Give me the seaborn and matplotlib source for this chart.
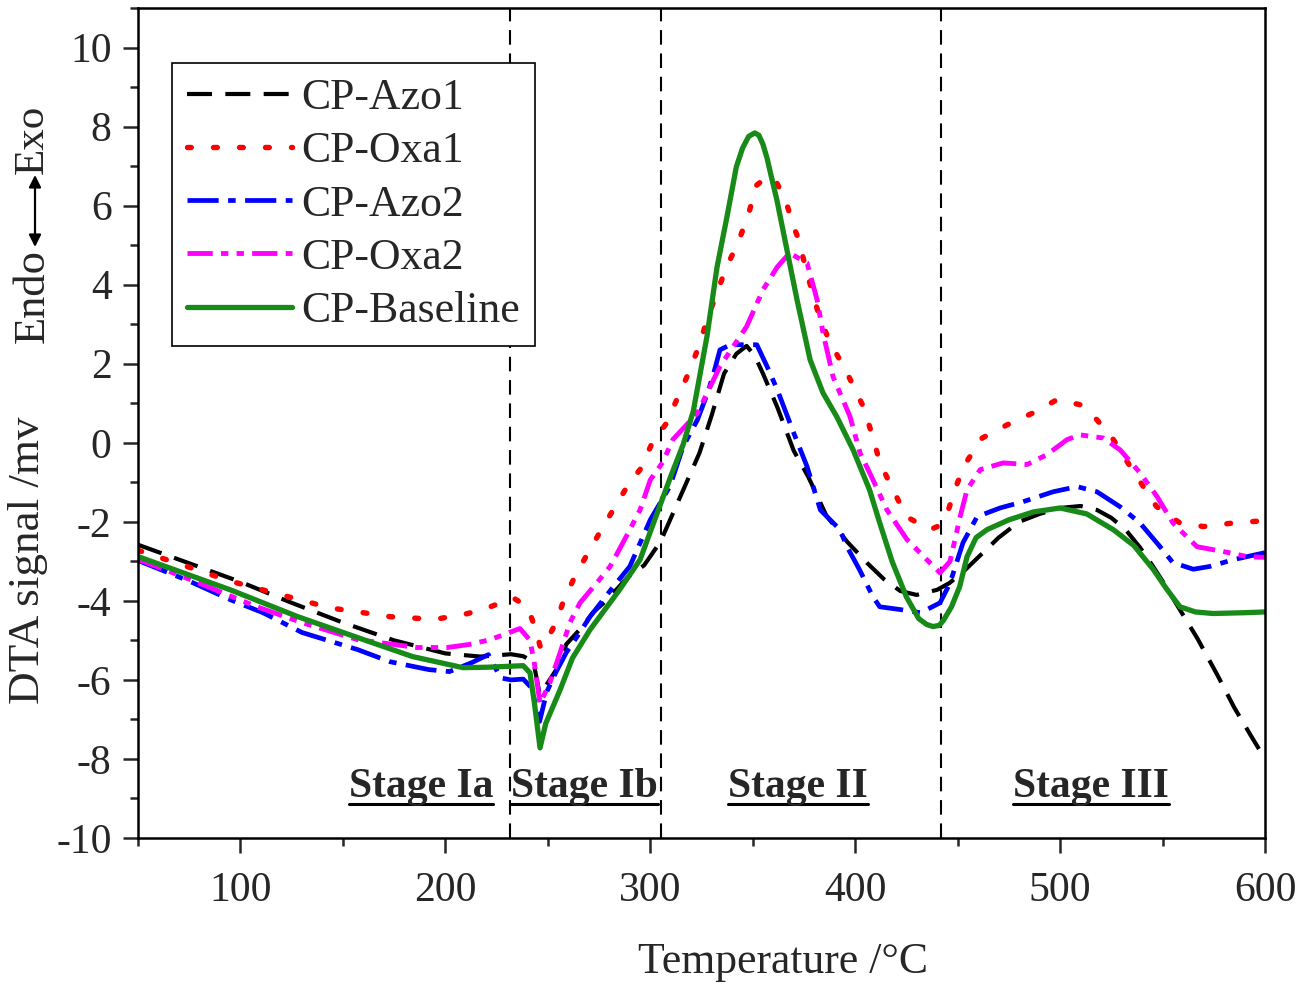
import matplotlib
matplotlib.use("Agg")
import matplotlib.pyplot as plt
import seaborn as sns
import pandas as pd
from matplotlib.ticker import MultipleLocator
from matplotlib.lines import Line2D

# ---------------- data ----------------
series_names = ["CP-Azo1", "CP-Oxa1", "CP-Azo2", "CP-Oxa2", "CP-Baseline"]

azo1_T = [50, 75, 100, 125, 150, 175, 200, 217, 225, 232, 238, 243, 246, 249, 254, 259, 266, 272,
          279, 289, 297, 305, 314, 324, 330, 336, 342, 347, 351, 355, 362, 370, 377, 386, 396, 406,
          414, 422, 430, 440, 446, 453, 461, 470, 480, 490, 500, 510, 518, 525, 532, 539, 545, 550,
          557, 567, 577, 585, 593, 600]
azo1_v = [-2.58, -3.05, -3.52, -4.05, -4.55, -5.0, -5.33, -5.41, -5.38, -5.35, -5.4, -5.55, -6.35,
          -6.15, -5.75, -5.1, -4.7, -4.3, -3.97, -3.4, -3.1, -2.5, -1.44, -0.26, 0.7, 1.75, 2.25,
          2.45, 2.2, 1.75, 0.9, -0.2, -0.85, -1.85, -2.5, -3.05, -3.45, -3.75, -3.85, -3.72, -3.55,
          -3.25, -2.85, -2.4, -2.0, -1.8, -1.65, -1.6, -1.7, -1.9, -2.2, -2.65, -3.1, -3.5, -4.1,
          -4.95, -5.9, -6.7, -7.4, -8.0]

oxa1_T = [50, 75, 95, 120, 144, 160, 173, 189, 197, 211, 222, 233, 240, 244, 246.5, 249, 254, 258,
          264, 275, 283, 290, 295, 301, 308, 313.5, 319, 324, 328, 337, 343, 348, 352, 357, 361,
          366, 370, 372, 377, 383, 388, 396, 404, 409, 412, 418.5, 425, 436.5, 441, 445, 450, 455,
          462, 474, 487, 498.5, 510, 518, 526, 533, 540.5, 547, 558.5, 570, 584.5, 600]
oxa1_v = [-2.72, -3.15, -3.5, -3.85, -4.18, -4.3, -4.4, -4.45, -4.45, -4.32, -4.15, -3.92, -4.15,
          -4.7, -5.2, -5.05, -4.55, -3.95, -3.3, -2.3, -1.6, -1.0, -0.68, 0.0, 0.5, 1.16, 1.8, 2.48,
          3.16, 4.42, 5.08, 5.8, 6.52, 6.73, 6.65, 6.14, 5.46, 5.2, 4.2, 3.1, 2.52, 1.77, 0.91,
          0.08, -0.5, -1.19, -1.87, -2.2, -2.1, -1.77, -1.0, -0.43, 0.12, 0.45, 0.76, 1.09, 0.96,
          0.58, 0.08, -0.5, -1.1, -1.61, -2.03, -2.12, -2.03, -1.97]

azo2_T = [50, 75, 95, 111, 130, 157, 173, 192, 202, 213, 221, 227, 232, 238, 242, 246, 249.5, 254,
          259, 265, 270.6, 282, 290, 300, 309.6, 316, 323, 328, 331, 334, 339, 352, 357, 362, 370,
          376.5, 383, 392.6, 396, 402, 408.7, 412, 422, 432, 441.4, 446.3, 452.6, 459.5, 470.7, 482,
          496.6, 508.3, 518, 529.3, 539, 548.8, 555, 565, 573, 584.4, 600]
azo2_v = [-2.98, -3.5, -3.97, -4.3, -4.8, -5.23, -5.54, -5.74, -5.79, -5.56, -5.36, -5.95, -6.0,
          -5.98, -6.2, -7.05, -6.3, -5.8, -5.31, -4.85, -4.4, -3.64, -3.13, -1.95, -1.1, -0.1, 0.58,
          1.26, 1.77, 2.35, 2.48, 2.48, 1.93, 1.34, 0.25, -0.6, -1.7, -2.2, -2.63, -3.2, -3.9,
          -4.15, -4.22, -4.3, -4.05, -3.55, -2.53, -1.87, -1.65, -1.49, -1.24, -1.11, -1.24, -1.62,
          -2.03, -2.63, -3.03, -3.2, -3.13, -2.96, -2.78]

oxa2_T = [50, 75, 108, 130, 157, 186, 201, 212, 222, 236.4, 241.3, 243.5, 246.2, 251, 256, 260.8,
          265.7, 274, 280.4, 288, 295, 300, 306, 311, 323, 334, 347, 355, 362, 368, 376.5, 381.4,
          384.3, 389.2, 397.5, 402.4, 408.7, 415.5, 425.3, 435, 441.4, 446.3, 451.2, 454.6, 461,
          472.2, 483.9, 493.6, 503.4, 509.7, 521, 529.3, 539, 547.3, 555.1, 566.8, 579.5, 591.2, 600]
oxa2_v = [-2.95, -3.45, -4.15, -4.55, -4.98, -5.18, -5.18, -5.1, -4.98, -4.7, -5.0, -5.6, -6.6,
          -6.07, -5.31, -4.55, -4.05, -3.54, -3.13, -2.4, -1.7, -0.94, -0.5, 0.08, 0.75, 1.93, 2.94,
          3.87, 4.45, 4.8, 4.55, 3.62, 2.78, 1.67, 0.66, -0.26, -0.94, -1.7, -2.45, -2.96, -3.29,
          -3.0, -1.87, -1.19, -0.68, -0.51, -0.55, -0.3, 0.08, 0.2, 0.12, -0.18, -0.76, -1.36, -2.03,
          -2.63, -2.75, -2.88, -2.9]

base_T = [50, 95, 128, 160, 184, 208.6, 220, 238, 241.3, 243.5, 246.2, 249, 256, 262, 270.6, 285,
          295, 305, 310, 316, 321, 327.7, 332.6, 337.4, 342, 345, 348, 351, 353, 355, 357, 359,
          361.8, 366.7, 371.6, 378, 384.3, 391, 399, 407, 412, 418, 425, 431, 435, 438, 441, 443,
          447, 451, 454.6, 459, 464.3, 475, 487, 500, 513, 526, 536, 545.4, 552, 558.5, 566, 574.6,
          590, 600]
base_v = [-2.88, -3.72, -4.4, -4.98, -5.41, -5.69, -5.68, -5.64, -5.82, -6.6, -7.72, -7.1, -6.25,
          -5.45, -4.73, -3.72, -2.96, -1.55, -0.85, -0.05, 0.8, 2.7, 4.45, 5.71, 6.98, 7.45, 7.75,
          7.84, 7.78, 7.55, 7.2, 6.75, 6.14, 4.88, 3.62, 2.1, 1.26, 0.66, -0.18, -1.19, -2.03, -3.0,
          -3.9, -4.45, -4.6, -4.65, -4.62, -4.5, -4.15, -3.64, -2.88, -2.4, -2.2, -1.95, -1.75,
          -1.65, -1.8, -2.2, -2.6, -3.2, -3.7, -4.15, -4.28, -4.32, -4.3, -4.28]

boundaries_T = [231.5, 305, 442]
stage_names = ["Stage Ia", "Stage Ib", "Stage II", "Stage III"]
stage_T = [188, 268, 372, 515]
x_ticks = [100, 200, 300, 400, 500, 600]
y_ticks = [-10, -8, -6, -4, -2, 0, 2, 4, 6, 8, 10]

# ---------------- styling ----------------
sns.set_style("ticks")
plt.rcParams["font.family"] = ["Liberation Serif", "DejaVu Serif"]
plt.rcParams["axes.linewidth"] = 1.8
plt.rcParams["axes.unicode_minus"] = False

fig = plt.figure(figsize=(13.05, 9.84), dpi=100)
ax = fig.add_axes([138 / 1305, 1 - 838 / 984, (1265 - 138) / 1305, (838 - 8) / 984])

colors = ["#000000", "#ff0000", "#0000ff", "#ff00ff", "#188a18"]
widths = [3.0, 3.9, 3.4, 3.5, 3.8]
dashes = [(6, 3.2), (0.7, 4.1), (6.6, 2.0, 1.6, 2.0), (5.2, 1.7, 1.5, 1.7, 1.5, 1.7), None]
caps = ["butt", "round", "butt", "butt", "butt"]

all_T = [azo1_T, oxa1_T, azo2_T, oxa2_T, base_T]
all_v = [azo1_v, oxa1_v, azo2_v, oxa2_v, base_v]

for b in boundaries_T:
    vl = ax.axvline(b, color="black", lw=1.5, zorder=1)
    vl.set_dashes((7, 4.2))

for name, T, v, c, w, d, cap in zip(series_names, all_T, all_v, colors, widths, dashes, caps):
    df = pd.DataFrame({"T": T, "v": v})
    sns.lineplot(data=df, x="T", y="v", ax=ax, color=c, lw=w, label=name,
                 sort=False, estimator=None, legend=False)
    ln = ax.lines[-1]
    if d is not None:
        ln.set_dashes(d)
    ln.set_dash_capstyle(cap)
    ln.set_solid_joinstyle("round")
    ln.set_dash_joinstyle("round")

ax.set_xlim(50, 600)
ax.set_ylim(-10, 11)
ax.set_xticks(x_ticks)
ax.set_yticks(y_ticks)
ax.xaxis.set_minor_locator(MultipleLocator(50))
ax.yaxis.set_minor_locator(MultipleLocator(1))
ax.tick_params(axis="both", which="major", direction="out", length=11, width=1.8,
               labelsize=30, pad=8)
ax.tick_params(axis="x", which="major", pad=13)
ax.tick_params(axis="both", which="minor", direction="out", length=6, width=1.8)
ax.tick_params(top=False, right=False, which="both")
for s in ax.spines.values():
    s.set_visible(True)
    s.set_linewidth(1.8)
    s.set_color("black")

ax.set_xlabel("Temperature /°C", fontsize=31.5)
ax.xaxis.set_label_coords((783 - 138) / 1127, -0.125)
ax.set_ylabel("DTA signal /mv", fontsize=32.5)
ax.yaxis.set_label_coords(-0.08, (838 - 560) / 830)

# Endo <-> Exo indicator
fig.text(33 / 1305, 1 - 249 / 984, "Endo", rotation=90, ha="center", va="top", fontsize=32)
fig.text(33 / 1305, 1 - 174 / 984, "Exo", rotation=90, ha="center", va="bottom", fontsize=31)
ax.annotate("", xy=(35 / 1305, 1 - 175 / 984), xytext=(35 / 1305, 1 - 247 / 984),
            xycoords="figure fraction", textcoords="figure fraction",
            arrowprops=dict(arrowstyle="<|-|>", lw=1.6, color="black",
                            mutation_scale=18, shrinkA=0, shrinkB=0))

leg = ax.legend(loc="upper left", bbox_to_anchor=((172 - 138) / 1127, (838 - 63) / 830),
                fontsize=31.5, frameon=True, fancybox=False, framealpha=1, edgecolor="black",
                handlelength=2.4, handletextpad=0.2, labelspacing=0.3, borderpad=0.35,
                borderaxespad=0)
leg.get_frame().set_linewidth(1.2)

# stage labels (bold, underlined)
stage_texts = []
for name, t in zip(stage_names, stage_T):
    stage_texts.append(ax.text(t, -8.95, name, ha="center", va="baseline",
                               fontsize=30, fontweight="bold"))

fig.canvas.draw()
renderer = fig.canvas.get_renderer()
inv = ax.transData.inverted()
for txt in stage_texts:
    bb = txt.get_window_extent(renderer)
    (x0, _), (x1, _) = inv.transform([(bb.x0, 0), (bb.x1, 0)])
    y_base = ax.transData.transform((0, -8.95))[1]
    y_line = inv.transform((0, y_base - 7))[1]
    ax.add_line(Line2D([x0, x1], [y_line, y_line], color="black", lw=2.2, clip_on=False))

fig.savefig("out.png", dpi=100)
